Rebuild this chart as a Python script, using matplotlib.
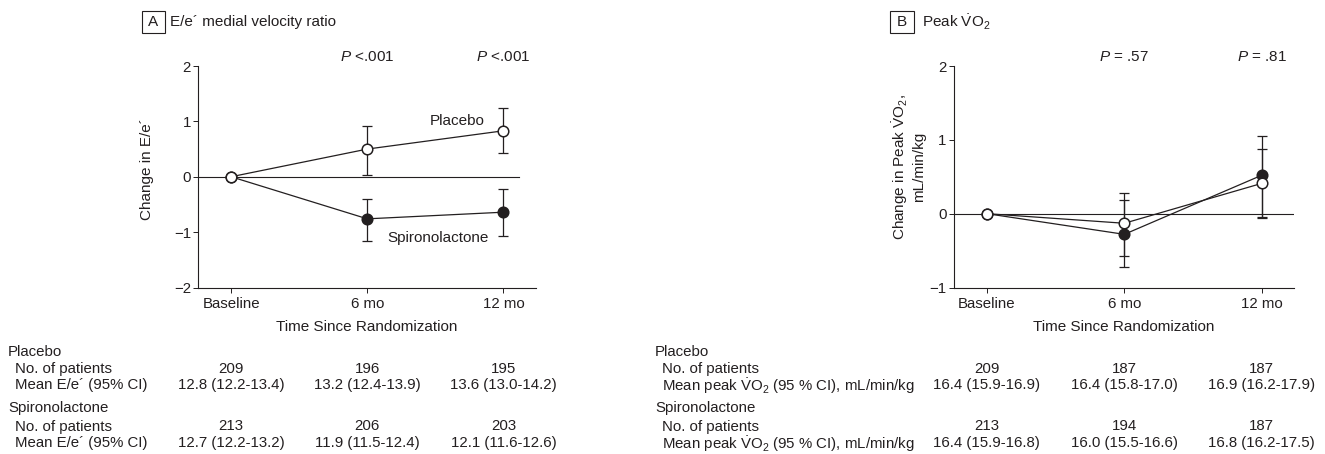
import numpy as np
import matplotlib
matplotlib.use('Agg')
import matplotlib.pyplot as plt
from matplotlib.transforms import blended_transform_factory
from matplotlib.patches import Rectangle

plt.rcParams['font.family'] = ['Liberation Sans', 'DejaVu Sans']
plt.rcParams['mathtext.fontset'] = 'custom'
plt.rcParams['mathtext.it'] = 'Liberation Sans:italic'
plt.rcParams['mathtext.rm'] = 'Liberation Sans'
plt.rcParams['mathtext.sf'] = 'Liberation Sans'

INK = '#231f20'
VO2 = r'$\dot{\mathrm{V}}\mathrm{O}_2$'

# ---------------- data ----------------
time_labels = ['Baseline', '6 mo', '12 mo']

# Panel A: change in E/e' (mean, lower CI, upper CI)
a_plac_mean = [0.0, 0.50, 0.83]
a_plac_lo = [0.0, 0.04, 0.42]
a_plac_hi = [0.0, 0.92, 1.24]
a_spiro_mean = [0.0, -0.76, -0.64]
a_spiro_lo = [0.0, -1.16, -1.07]
a_spiro_hi = [0.0, -0.41, -0.22]
a_pvals = ['<.001', '<.001']

# Panel B: change in peak VO2
b_plac_mean = [0.0, -0.13, 0.41]
b_plac_lo = [0.0, -0.58, -0.045]
b_plac_hi = [0.0, 0.28, 0.87]
b_spiro_mean = [0.0, -0.28, 0.52]
b_spiro_lo = [0.0, -0.72, -0.06]
b_spiro_hi = [0.0, 0.19, 1.05]
b_pvals = ['= .57', '= .81']

# Tables
a_plac_n = ['209', '196', '195']
a_plac_ci = ['12.8 (12.2-13.4)', '13.2 (12.4-13.9)', '13.6 (13.0-14.2)']
a_spiro_n = ['213', '206', '203']
a_spiro_ci = ['12.7 (12.2-13.2)', '11.9 (11.5-12.4)', '12.1 (11.6-12.6)']

b_plac_n = ['209', '187', '187']
b_plac_ci = ['16.4 (15.9-16.9)', '16.4 (15.8-17.0)', '16.9 (16.2-17.9)']
b_spiro_n = ['213', '194', '187']
b_spiro_ci = ['16.4 (15.9-16.8)', '16.0 (15.5-16.6)', '16.8 (16.2-17.5)']

W, H = 1325, 454
fig = plt.figure(figsize=(W / 100, H / 100), dpi=100)


def fx(px):
    return px / W


def fy(py):
    return 1 - py / H


axA = fig.add_axes([fx(198), fy(287.5), fx(337.5), 221.5 / H])
axB = fig.add_axes([fx(953.5), fy(287.5), fx(340.5), 221.5 / H])

FS_TICK = 10.8
FS_LAB = 11


def draw_panel(ax, pm, plo, phi, sm, slo, shi, ylim, yticks, zero_end, pvals):
    x = np.arange(len(time_labels))
    ax.set_xlim(-0.243, 2.235)
    ax.set_ylim(*ylim)
    ax.plot([-0.243, zero_end], [0, 0], color=INK, lw=0.8, zorder=1)

    for mean, lo, hi, face, z in [(sm, slo, shi, INK, 3), (pm, plo, phi, 'white', 4)]:
        mean = np.asarray(mean)
        lo = np.asarray(lo)
        hi = np.asarray(hi)
        ax.errorbar(x[1:], mean[1:], yerr=[mean[1:] - lo[1:], hi[1:] - mean[1:]],
                    fmt='none', ecolor=INK, elinewidth=0.9, capsize=3.8,
                    capthick=0.9, zorder=z)
        ax.plot(x, mean, color=INK, lw=0.9, marker='o', ms=7.6, mfc=face,
                mec=INK, mew=1.1, zorder=z + 0.5)

    for s in ['top', 'right']:
        ax.spines[s].set_visible(False)
    for s in ['left', 'bottom']:
        ax.spines[s].set_linewidth(0.8)
        ax.spines[s].set_color(INK)
    ax.set_xticks(x)
    ax.set_xticklabels(time_labels)
    ax.set_yticks(yticks)
    ax.set_yticklabels([('\u2212%d' % -t) if t < 0 else '%d' % t for t in yticks])
    ax.tick_params(axis='both', direction='out', length=3.6, width=0.7,
                   colors=INK, labelsize=FS_TICK)
    ax.tick_params(axis='y', pad=1.5)
    ax.tick_params(axis='x', pad=3.5)
    ax.set_xlabel('Time Since Randomization', fontsize=FS_LAB, color=INK)
    ax.xaxis.set_label_coords(0.5, -0.177)
    ax.xaxis.label.set_va('center')
    for xi, p in zip(x[1:], pvals):
        ax.text(xi, 1.042, r'$\mathit{P}$ ' + p,
                transform=blended_transform_factory(ax.transData, ax.transAxes),
                ha='center', va='center', fontsize=FS_LAB, color=INK)


draw_panel(axA, a_plac_mean, a_plac_lo, a_plac_hi, a_spiro_mean, a_spiro_lo, a_spiro_hi,
           (-2, 2), [-2, -1, 0, 1, 2], 2.115, a_pvals)
draw_panel(axB, b_plac_mean, b_plac_lo, b_plac_hi, b_spiro_mean, b_spiro_lo, b_spiro_hi,
           (-1, 2), [-1, 0, 1, 2], 2.235, b_pvals)

axA.set_ylabel('Change in E/e\u00b4', fontsize=FS_LAB, color=INK)
axA.yaxis.set_label_coords(-0.151, 0.533)
axA.yaxis.label.set_va('center')
axB.set_ylabel('Change in Peak ' + VO2 + ',\nmL/min/kg', fontsize=FS_LAB, color=INK,
               linespacing=1.2)
axB.yaxis.set_label_coords(-0.134, 0.544)
axB.yaxis.label.set_va('center')

axA.text(1.657, 1.01, 'Placebo', ha='center', va='center', fontsize=FS_LAB, color=INK)
axA.text(1.52, -1.10, 'Spironolactone', ha='center', va='center', fontsize=FS_LAB, color=INK)

# Panel titles with boxed letters
for (bx0, bx1, letter, tx, title) in [(141.5, 164.5, 'A', 170, 'E/e\u00b4 medial velocity ratio'),
                                       (890, 914, 'B', 921.5, 'Peak ' + VO2)]:
    fig.patches.append(Rectangle((fx(bx0), fy(33)), fx(bx1 - bx0), 22 / H,
                                 transform=fig.transFigure, fill=False,
                                 edgecolor=INK, lw=0.8))
    fig.text(fx((bx0 + bx1) / 2), fy(22), letter, ha='center', va='center',
             fontsize=FS_LAB, color=INK)
    fig.text(fx(tx), fy(22), title, ha='left', va='center', fontsize=FS_LAB, color=INK)

# Tables
rows_y = [351, 367.5, 384, 406.5, 425, 441.5]


def draw_table(ax, x0, x1, mean_label, pn, pci, sn, sci):
    tr = blended_transform_factory(ax.transData, fig.transFigure)
    labels = [('Placebo', x0), ('No. of patients', x1), (mean_label, x1),
              ('Spironolactone', x0), ('No. of patients', x1), (mean_label, x1)]
    for (lab, lx), yy in zip(labels, rows_y):
        fig.text(fx(lx), fy(yy), lab, ha='left', va='center_baseline', fontsize=FS_TICK,
                 color=INK)
    for vals, yy in [(pn, rows_y[1]), (pci, rows_y[2]), (sn, rows_y[4]), (sci, rows_y[5])]:
        for i, v in enumerate(vals):
            fig.text(i, fy(yy), v, transform=tr, ha='center', va='center_baseline',
                     fontsize=FS_TICK, color=INK)


draw_table(axA, 8, 15, 'Mean E/e\u00b4 (95% CI)', a_plac_n, a_plac_ci, a_spiro_n, a_spiro_ci)
draw_table(axB, 655, 662, 'Mean peak ' + VO2 + ' (95 % CI), mL/min/kg',
           b_plac_n, b_plac_ci, b_spiro_n, b_spiro_ci)

fig.savefig('out.png', dpi=100)
